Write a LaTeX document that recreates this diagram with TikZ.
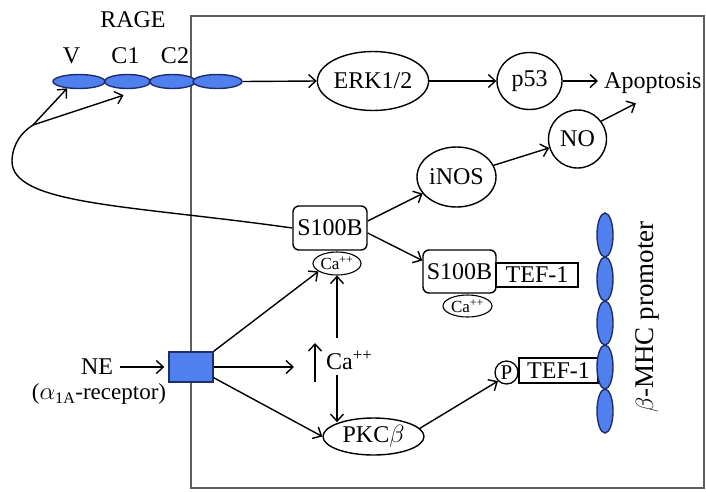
\documentclass[tikz,border=0pt]{standalone}
\usepackage{fontspec}
\setmainfont{Liberation Serif}
\usetikzlibrary{arrows.meta,shapes.geometric}
\definecolor{blu}{HTML}{4F80EE}
\definecolor{bluline}{HTML}{1E2D6B}
\definecolor{memb}{HTML}{5E5E5E}
\begin{document}
\begin{tikzpicture}[x=1pt,y=-1pt,
  lab/.style={font=\fontsize{24}{28}\selectfont, inner sep=0pt},
  ell/.style={draw, ellipse, line width=1.4pt, inner sep=0pt, font=\fontsize{24}{28}\selectfont},
  sell/.style={draw, ellipse, line width=1.1pt, inner sep=0pt, font=\fontsize{17}{19}\selectfont},
  rbox/.style={draw, rounded corners=6pt, line width=1.4pt, inner sep=0pt, font=\fontsize{24}{28}\selectfont},
  sqbox/.style={draw, line width=1.4pt, inner sep=0pt, font=\fontsize{24}{28}\selectfont},
  dom/.style={draw=bluline, fill=blu, ellipse, line width=1.4pt, inner sep=0pt},
  arr/.style={-{Straight Barb[length=7pt,width=13pt]}, line width=1.4pt},
  plain/.style={line width=1.4pt}
]
\useasboundingbox (0,0) rectangle (706,491);
% membrane
\draw[memb, line width=1.4pt] (191,488) -- (191,16) -- (704,16) -- (704,488) -- cycle;
% RAGE
\node[dom, minimum width=52, minimum height=14] (r1) at (79,81.5) {};
\node[dom, minimum width=46, minimum height=14] (r2) at (127.5,81.5) {};
\node[dom, minimum width=46, minimum height=14] (r3) at (172.5,81.5) {};
\node[dom, minimum width=49, minimum height=14] (r4) at (217.5,81.5) {};
\node[lab] (rage) at (133,20) {RAGE};
\node[lab] (lv) at (71.5,56) {V};
\node[lab] (lc1) at (125.5,56) {C1};
\node[lab] (lc2) at (175,56) {C2};
% top row
\node[ell, minimum width=89, minimum height=59] (erk) at (373,81) {ERK1/2};
\node[ell, minimum width=65, minimum height=57] (p53) at (529.5,81) {p53};
\node[lab, anchor=base west] (apo) at (604,88) {Apoptosis};
\node[ell, circle, minimum size=58] (no) at (577.5,139) {NO};
\node[ell, minimum width=79, minimum height=60] (inos) at (456.5,177) {iNOS};
% S100B
\node[rbox, minimum width=74, minimum height=44] (s1) at (330,228) {S100B};
\node[sell, minimum width=48, minimum height=23] (ca1) at (337,263.5) {Ca\textsuperscript{++}};
\node[rbox, minimum width=73, minimum height=43] (s2) at (459.5,271.5) {S100B};
\node[sqbox, minimum width=82, minimum height=24] (tef1) at (537,275) {TEF-1};
\node[sell, minimum width=49, minimum height=22] (ca2) at (467.5,306) {Ca\textsuperscript{++}};
% receptor
\node[fill=blu, draw=bluline, line width=1.4pt, minimum width=44, minimum height=30, inner sep=0pt] (rec) at (191,367) {};
\node[lab] (ne) at (97,367) {NE};
\node[lab, font=\fontsize{23}{27}\selectfont] (alpha) at (99,394) {($\alpha$\textsubscript{1A}-receptor)};
\node[lab, anchor=west] (ca) at (326,360) {Ca\textsuperscript{++}};
\node[ell, minimum width=101, minimum height=37] (pkc) at (373.5,436.5) {PKC$\beta$};
\node[draw, circle, line width=1.3pt, inner sep=0pt, minimum size=23, font=\fontsize{21}{24}\selectfont] (p) at (506.5,372.5) {P};
\node[sqbox, minimum width=79, minimum height=25] (tef2) at (558.5,370.5) {TEF-1};
% promoter
\foreach \i/\y in {1/235,2/279,3/323,4/367,5/411}
  \node[dom, minimum width=16, minimum height=44] (m\i) at (605,\y) {};
\node[lab, rotate=90, font=\fontsize{27}{30}\selectfont] (bmhc) at (647,317) {$\beta$-MHC promoter};
% coordinates
\coordinate (fork) at (33,125);
\coordinate (hend) at (294,367);
\coordinate (upB) at (315,382);
\coordinate (upT) at (315,343);
\coordinate (caTop) at (337,338);
\coordinate (caBot) at (337,375);
% connectors
\draw[arr] (r4.east) -- (erk.west);
\draw[arr] (erk) -- (p53);
\draw[arr] (p53.east) -- ([xshift=-6pt]p53.east -| apo.west);
\draw[arr] (no.37) -- ([xshift=-17pt,yshift=-10pt]apo.south);
\draw[arr] (inos) -- (no);
\draw[arr] ([yshift=7pt]s1.east) -- (inos.206);
\draw[arr] ([yshift=-5pt]s1.east) -- ([yshift=11pt]s2.west);
\draw[plain] (s1.west) .. controls (130,205) and (10,205) .. (12,160) .. controls (13,143) and (22,132) .. (fork);
\draw[arr] (fork) -- (r1.210);
\draw[arr] (fork) -- ([xshift=-4pt,yshift=-6pt]r2.south);
\draw[arr] ([xshift=7pt]ne.east) -- ([xshift=-4pt]rec.west);
\draw[arr] (rec.north east) -- (ca1.203);
\draw[arr] (rec.east) -- (hend);
\draw[arr] ([yshift=5pt]rec.south east) -- (pkc.west);
\draw[arr] (upB) -- (upT);
\draw[arr] (caTop) -- (ca1.south);
\draw[arr] (caBot) -- (caBot |- pkc.157);
\draw[arr] (pkc.10) -- (p.225);
\end{tikzpicture}
\end{document}
